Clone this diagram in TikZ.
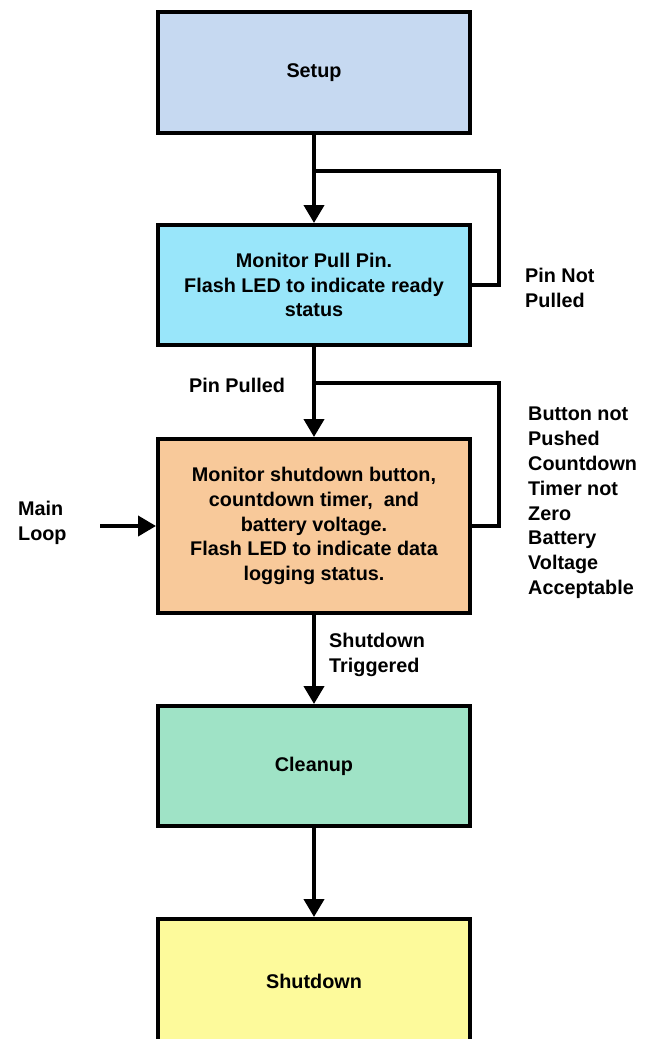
\documentclass[tikz,border=0pt]{standalone}
\usepackage{fontspec}
\setmainfont{Liberation Sans}
\usetikzlibrary{arrows.meta}
\definecolor{cSetup}{HTML}{C6D9F1}
\definecolor{cPin}{HTML}{99E6FA}
\definecolor{cMain}{HTML}{F8C99A}
\definecolor{cClean}{HTML}{9FE3C6}
\definecolor{cShut}{HTML}{FDFA9B}
\begin{document}
\begin{tikzpicture}[x=1pt,y=-1pt,
  box/.style={draw=black, line width=4pt, minimum width=312pt, inner sep=0pt,
    align=center, font=\fontsize{19.8}{24.8}\selectfont\bfseries},
  lbl/.style={inner sep=0pt, align=left, anchor=west,
    font=\fontsize{19.8}{24.8}\selectfont\bfseries},
  conn/.style={line width=4pt},
  arr/.style={line width=4pt, -{Triangle[width=20pt,length=18pt]}}]
\useasboundingbox (0,0) rectangle (651,1039);
\clip (0,0) rectangle (651,1039);
\node[box, fill=cSetup, minimum height=121pt] (setup) at (314,72.5) {Setup};
\node[box, fill=cPin, minimum height=120pt] (pin) at (314,285)
  {Monitor Pull Pin.\\Flash LED to indicate ready\\status};
\node[box, fill=cMain, minimum height=174pt] (main) at (314,526)
  {Monitor shutdown button,\\countdown timer,\ \ and\\battery voltage.\\Flash LED to indicate data\\logging status.};
\node[box, fill=cClean, minimum height=120pt] (clean) at (314,766) {Cleanup};
\node[box, fill=cShut, minimum height=124pt] (shut) at (314,981) {Shutdown};
\coordinate (j1) at (314,171);
\coordinate (r1) at (499,171);
\coordinate (j2) at (314,383);
\coordinate (r2) at (499,383);
\coordinate (ml) at (100,526);
\draw[arr] (setup.south) -- (pin.north);
\draw[conn] (pin.east) -| (r1) -- (j1);
\draw[arr] (pin.south) -- (main.north);
\draw[conn] (main.east) -| (r2) -- (j2);
\draw[arr] (ml) -- (main.west);
\draw[arr] (main.south) -- (clean.north);
\draw[arr] (clean.south) -- (shut.north);
\node[lbl] (lpnp) at (525,288) {Pin Not\\Pulled};
\node[lbl] (lpp) at (189,385) {Pin Pulled};
\node[lbl] (lbn) at (528,503) {Button not\\Pushed\\Countdown\\Timer not\\Zero\\Battery\\Voltage\\Acceptable};
\node[lbl] (lml) at (18,523) {Main\\Loop};
\node[lbl] (lst) at (329,655) {Shutdown\\Triggered};
\end{tikzpicture}
\end{document}
